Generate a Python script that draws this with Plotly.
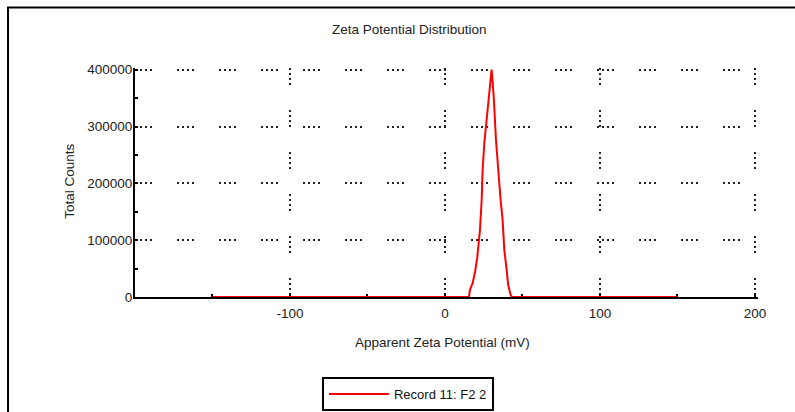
import plotly.graph_objects as go

# ---- data ----
zeta_mv = [-150, 15.5, 16.1, 17.9, 19.4, 20.8, 22.6, 23.7, 24.3, 25.4, 26.9, 28.7,
           29.7, 30.1, 30.5, 31.6, 32.9, 34.8, 35.9, 37.2, 38.3, 39.8, 40.8, 42.4, 43.2, 150]
total_counts = [0, 0, 12300, 24700, 44000, 68700, 118000, 171000, 224000, 271000, 312000, 356000,
                389000, 400000, 389000, 347000, 277000, 206000, 171000, 136000, 83000, 47600,
                21000, 3500, 0, 0]
series_name = "Record 11: F2 2"

x_tickvals = [-100, 0, 100, 200]
x_ticktext = ["-100", "0", "100", "200"]
y_tickvals = [0, 100000, 200000, 300000, 400000]
y_ticktext = ["0", "100000", "200000", "300000", "400000"]

FONT = "Liberation Sans, Arial, sans-serif"
FS = 13.5
DOTS = "2px,3px,2px,3px,2px,3px,2px,25px"

X_MIN, X_MAX = -200, 202
Y_MIN, Y_MAX = 0, 403000

# target plot geometry (pixels): x -200..200 -> 135..755, y 0..400000 -> 297..70
W, H = 795, 412
L = 135
pw = 620 * (X_MAX - X_MIN) / 400.0
R = W - L - pw
B = 412 - 297
ph = 227 * (Y_MAX - Y_MIN) / 400000.0
T = H - B - ph

def px_x(p):
    return (p - L) / pw

def px_y(p):
    return (H - B - p) / ph

fig = go.Figure()
fig.add_trace(go.Scatter(
    x=zeta_mv, y=total_counts, mode="lines", name=series_name,
    line=dict(color="#ff0000", width=2), showlegend=True,
))

fig.update_layout(
    width=W, height=H,
    margin=dict(l=L, r=R, t=T, b=B, pad=0, autoexpand=False),
    paper_bgcolor="white", plot_bgcolor="white",
    font=dict(family=FONT, size=FS, color="#222"),
    showlegend=True,
    legend=dict(
        x=px_x(322), y=px_y(394), xanchor="left", yanchor="middle",
        bordercolor="black", borderwidth=2, bgcolor="white",
        font=dict(family=FONT, size=13, color="#111"),
        itemwidth=60, tracegroupgap=0,
    ),
    xaxis=dict(
        range=[X_MIN, X_MAX], tickvals=x_tickvals, ticktext=x_ticktext,
        showline=True, linecolor="black", linewidth=2,
        ticks="inside", ticklen=3, tickwidth=1.5, tickcolor="black",
        ticklabelstandoff=3,
        showgrid=True, gridcolor="#222", gridwidth=1.5, griddash=DOTS,
        zeroline=False, layer="below traces",
        minor=dict(dtick=50, tick0=-200, ticks="inside", ticklen=3,
                   tickwidth=1.5, tickcolor="black", showgrid=False),
        fixedrange=True,
    ),
    yaxis=dict(
        range=[Y_MIN, Y_MAX], tickvals=y_tickvals, ticktext=y_ticktext,
        showline=True, linecolor="black", linewidth=2,
        ticks="inside", ticklen=3, tickwidth=1.5, tickcolor="black",
        ticklabelstandoff=-2,
        showgrid=True, gridcolor="#222", gridwidth=1.5, griddash=DOTS,
        zeroline=False, layer="below traces",
        minor=dict(dtick=50000, tick0=0, ticks="inside", ticklen=3,
                   tickwidth=1.5, tickcolor="black", showgrid=False),
        fixedrange=True,
    ),
    annotations=[
        dict(text="Zeta Potential Distribution", xref="paper", yref="paper",
             x=px_x(410), y=px_y(30), xanchor="center", yanchor="middle",
             showarrow=False, font=dict(family=FONT, size=FS, color="#222")),
        dict(text="Apparent Zeta Potential (mV)", xref="paper", yref="paper",
             x=px_x(443), y=px_y(342), xanchor="center", yanchor="middle",
             showarrow=False, font=dict(family=FONT, size=FS, color="#222")),
        dict(text="Total Counts", xref="paper", yref="paper",
             x=px_x(70), y=px_y(182), xanchor="center", yanchor="middle",
             textangle=-90, showarrow=False,
             font=dict(family=FONT, size=FS, color="#222")),
    ],
    shapes=[
        dict(type="rect", xref="paper", yref="paper",
             x0=px_x(8), x1=px_x(810), y0=px_y(430), y1=px_y(8),
             line=dict(color="black", width=2), fillcolor="rgba(0,0,0,0)",
             layer="below"),
    ],
)

fig.write_html(
    "out.html",
    config={"displayModeBar": False},
    post_script="document.body.style.margin='0';document.body.style.overflow='hidden';",
)
